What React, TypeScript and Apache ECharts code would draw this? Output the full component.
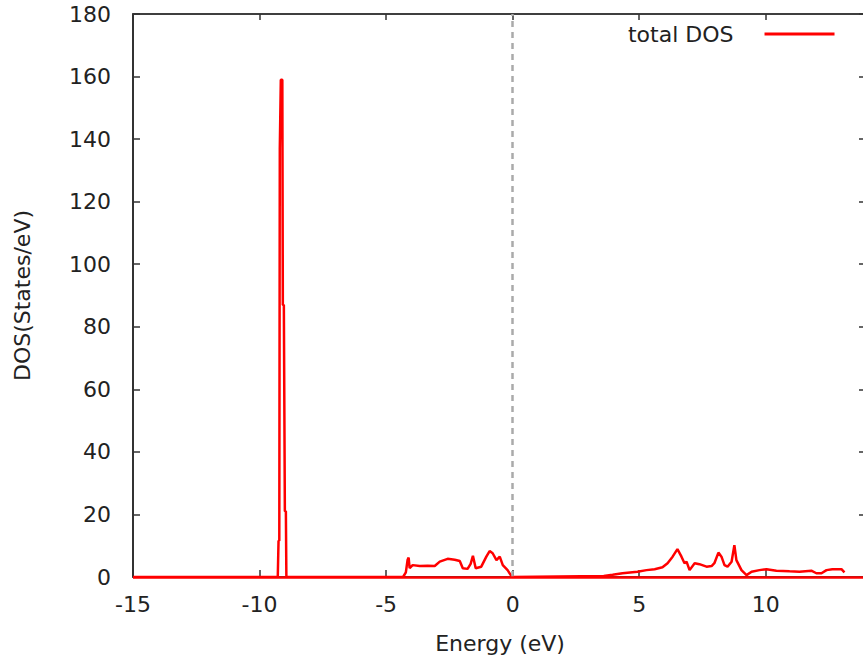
import React, { useEffect, useRef } from "react";
import * as echarts from "echarts";

const energy = [
  -15, -9.32, -9.28, -9.25, -9.22, -9.2, -9.16, -9.1, -9.08, -9.04, -9.0, -8.96, -8.94,
  -4.4, -4.33, -4.22, -4.15, -4.11, -4.07, -3.95, -3.67, -3.36, -3.08, -2.88, -2.57, -2.29,
  -2.09, -1.97, -1.78, -1.66, -1.57, -1.46, -1.24, -1.04, -0.91, -0.79, -0.64, -0.51, -0.39,
  -0.2, -0.05, 0.0, 3.6, 3.95, 4.34, 4.93, 5.29, 5.61, 5.92, 6.12, 6.32, 6.51, 6.67, 6.79,
  6.87, 6.99, 7.19, 7.38, 7.66, 7.86, 7.97, 8.13, 8.25, 8.37, 8.49, 8.65, 8.76, 8.84, 9.04,
  9.24, 9.44, 9.75, 10.03, 10.42, 10.94, 11.33, 11.8, 12.0, 12.2, 12.4, 12.63, 12.99, 13.11,
];
const dos = [
  0, 0, 0, 11.6, 11.6, 137, 159, 159, 87, 87, 21, 21, 0,
  0, 0, 1.5, 5.5, 6.2, 2.8, 3.8, 3.5, 3.6, 3.5, 4.9, 5.8, 5.5,
  5.1, 2.8, 2.6, 4.2, 6.8, 2.8, 3.3, 6.5, 8.3, 7.6, 5.4, 6.5, 3.8,
  2.2, 0.3, 0, 0.3, 0.7, 1.2, 1.7, 2.2, 2.5, 3.1, 4.4, 6.5, 8.9, 6.5, 4.4,
  4.9, 2.2, 4.4, 4.1, 3.3, 3.5, 4.4, 7.8, 6.5, 3.8, 3.3, 4.9, 10.2, 5.4, 2.2,
  0.6, 1.7, 2.2, 2.5, 2.0, 1.8, 1.7, 2.0, 1.2, 1.2, 2.2, 2.5, 2.5, 1.5,
];
const seriesName = "total DOS";
const xTitle = "Energy (eV)";
const yTitle = "DOS(States/eV)";

const FONT = "DejaVu Sans";

export default function App() {
  const ref = useRef<HTMLDivElement>(null);
  useEffect(() => {
    if (!ref.current) return;
    const chart = echarts.init(ref.current, null, { renderer: "svg" });
    const data = energy.map((e, i) => [e, dos[i]]);
    const labelStyle = { fontFamily: FONT, fontSize: 22, color: "#222" };
    chart.setOption({
      animation: false,
      backgroundColor: "#fff",
      grid: {
        left: 133,
        top: 14,
        width: 734,
        height: 563,
        show: true,
        borderColor: "#333",
        borderWidth: 1.5,
      },
      legend: {
        left: 623,
        top: 18,
        align: "right",
        itemWidth: 70,
        itemHeight: 3,
        itemGap: 0,
        icon: "rect",
        textStyle: { ...labelStyle, padding: [0, 26, 0, 0] },
        data: [{ name: seriesName, itemStyle: { color: "#ff0000" } }],
      },
      xAxis: [
        {
          type: "value",
          min: -15,
          max: 14,
          interval: 5,
          position: "bottom",
          name: xTitle,
          nameLocation: "middle",
          nameGap: 55,
          nameTextStyle: labelStyle,
          axisLine: { show: true, onZero: false, lineStyle: { color: "#333", width: 1.5 } },
          axisTick: { show: true, inside: true, length: 7, lineStyle: { color: "#333", width: 1.5 } },
          axisLabel: { ...labelStyle, margin: 16, showMaxLabel: false },
          splitLine: { show: false },
        },
        {
          type: "value",
          min: -15,
          max: 14,
          interval: 5,
          position: "top",
          axisLine: { show: true, onZero: false, lineStyle: { color: "#333", width: 1.5 } },
          axisTick: { show: true, inside: true, length: 6, lineStyle: { color: "#333", width: 1.5 } },
          axisLabel: { show: false },
          splitLine: { show: false },
        },
      ],
      yAxis: [
        {
          type: "value",
          min: 0,
          max: 180,
          interval: 20,
          position: "left",
          name: yTitle,
          nameLocation: "middle",
          nameGap: 100,
          nameTextStyle: labelStyle,
          axisLine: { show: true, onZero: false, lineStyle: { color: "#222", width: 1.5 } },
          axisTick: { show: true, inside: true, length: 7, lineStyle: { color: "#333", width: 1.5 } },
          axisLabel: { ...labelStyle, margin: 22 },
          splitLine: { show: false },
        },
        {
          type: "value",
          min: 0,
          max: 180,
          interval: 20,
          position: "right",
          axisLine: { show: true, onZero: false, lineStyle: { color: "#333", width: 1.5 } },
          axisTick: { show: true, inside: true, length: 8, lineStyle: { color: "#333", width: 1.5 } },
          axisLabel: { show: false },
          splitLine: { show: false },
        },
      ],
      series: [
        {
          name: seriesName,
          type: "line",
          data,
          showSymbol: false,
          symbol: "none",
          color: "#ff0000",
          lineStyle: { color: "#ff0000", width: 2.5 },
          z: 3,
          markLine: {
            silent: true,
            symbol: "none",
            label: { show: false },
            data: [
              { xAxis: 0, lineStyle: { color: "#aaa", type: [6, 5], width: 2.5 } },
              { yAxis: 0, lineStyle: { color: "#ff0000", type: "solid", width: 2.5 } },
            ],
          },
        },
      ],
    });
    return () => chart.dispose();
  }, []);
  return (
    <div
      style={{
        position: "absolute",
        left: 0,
        top: 0,
        width: 863,
        height: 668,
        overflow: "hidden",
        background: "#fff",
      }}
    >
      <div ref={ref} style={{ width: 880, height: 668 }} />
    </div>
  );
}
